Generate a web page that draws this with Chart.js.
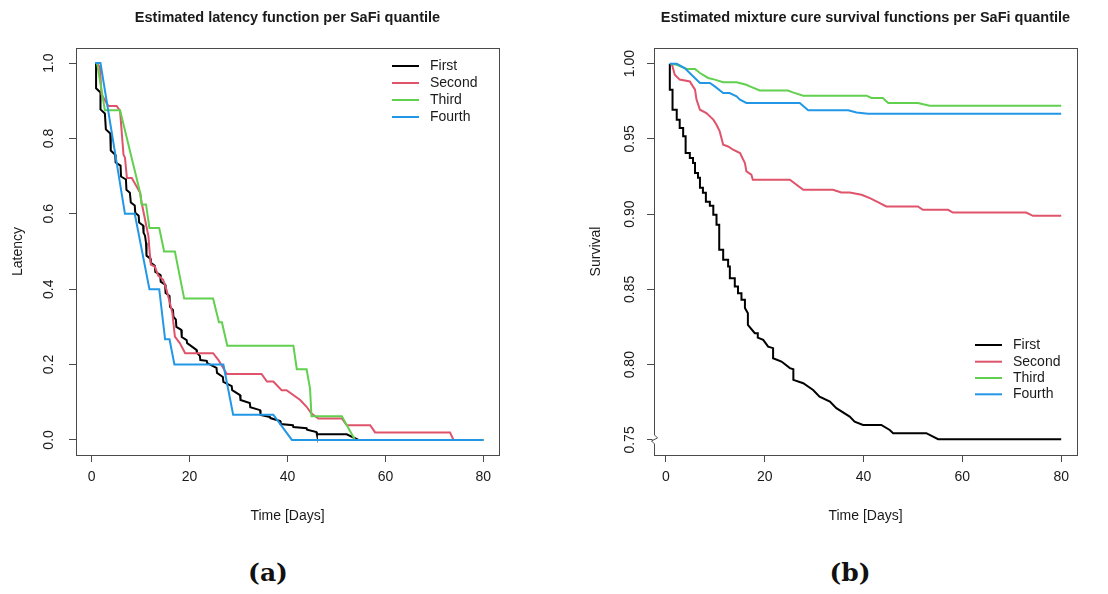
<!DOCTYPE html>
<html>
<head>
<meta charset="utf-8">
<title>SaFi quantile curves</title>
<script src="https://cdn.jsdelivr.net/npm/chart.js@4.4.1/dist/chart.umd.min.js"></script>
<style>
  body { margin: 0; background: #fff; }
  #wrap { position: relative; width: 1108px; height: 594px; overflow: hidden; }
  canvas { position: absolute; top: 0; }
  #latencyChart { left: 0; }
  #survivalChart { left: 554px; }
  .cap { position: absolute; top: 557px; width: 100px; text-align: center;
         font: bold 25px "DejaVu Serif", serif; line-height: 32px; color: #111; }
</style>
</head>
<body>
<div id="wrap">
  <canvas id="latencyChart" width="554" height="540"></canvas>
  <canvas id="survivalChart" width="554" height="540"></canvas>
  <div class="cap" style="left:218px">(a)</div>
  <div class="cap" style="left:800px">(b)</div>
</div>
<script>
// groups and palette (R 4.x default palette)
const quantiles = ['First', 'Second', 'Third', 'Fourth'];
const quantileColors = ['#000000', '#DF536B', '#61D04F', '#2297E6'];

// axis ticks
const xTicks = [0, 20, 40, 60, 80];
const latencyTicks = [0, 0.2, 0.4, 0.6, 0.8, 1.0];
const survivalTicks = [0.75, 0.80, 0.85, 0.90, 0.95, 1.00];

// (a) estimated latency function
const latFirstDays = [0.9,0.9,1.8,1.8,2.7,2.9,3.8,3.9,4.8,4.9,5.9,6.0,7.0,7.1,7.8,8.0,8.8,8.9,9.6,9.7,10.5,10.6,10.9,11.1,11.2,12.0,12.1,12.9,13.0,14.0,14.1,15.0,15.1,15.9,16.0,16.6,16.7,17.2,17.3,18.3,18.4,19.4,19.5,21.4,21.5,22.1,22.2,23.5,23.6,25.5,25.6,26.8,26.9,28.6,28.7,30.3,30.4,32.3,32.4,34.4,34.5,36.4,36.5,38.5,38.6,41.1,41.2,43.9,44.0,45.9,46.0,52.1,54.5,80];
const latFirstVals = [1.0,0.933,0.922,0.877,0.866,0.824,0.813,0.768,0.757,0.736,0.728,0.699,0.691,0.664,0.656,0.630,0.622,0.603,0.595,0.577,0.569,0.550,0.542,0.523,0.489,0.481,0.470,0.462,0.446,0.438,0.420,0.412,0.390,0.382,0.353,0.345,0.327,0.319,0.300,0.292,0.273,0.265,0.257,0.239,0.231,0.223,0.212,0.210,0.204,0.191,0.178,0.167,0.154,0.143,0.132,0.119,0.106,0.098,0.087,0.079,0.066,0.061,0.058,0.050,0.042,0.039,0.034,0.031,0.027,0.021,0.015,0.015,0,0];

const latSecondDays = [1.0,1.7,2.0,3.4,5.1,5.8,6.5,6.8,7.2,8.2,9.9,10.2,10.9,11.6,11.8,12.1,12.9,13.6,14.6,15.3,16.0,16.5,16.7,17.0,18.0,19.1,24.8,25.9,27.6,34.7,35.8,37.1,38.8,39.8,42.6,43.9,44.9,46.3,51.1,52.1,56.9,57.9,73.2,73.9,80];
const latSecondVals = [1.0,0.989,0.917,0.886,0.886,0.873,0.757,0.749,0.695,0.695,0.656,0.630,0.585,0.540,0.505,0.465,0.460,0.436,0.425,0.398,0.363,0.336,0.310,0.274,0.257,0.230,0.230,0.212,0.175,0.175,0.155,0.155,0.132,0.132,0.106,0.088,0.070,0.057,0.057,0.039,0.039,0.020,0.020,0,0];

const latThirdDays = [1.1,2.7,5.8,9.9,10.2,11.1,11.8,13.8,14.8,17.0,18.9,24.8,26.0,26.6,27.7,41.2,41.9,43.9,44.6,44.9,51.1,53.8,80];
const latThirdVals = [1.0,0.875,0.875,0.656,0.625,0.625,0.5625,0.5625,0.5,0.5,0.375,0.375,0.3125,0.3125,0.25,0.25,0.1875,0.1875,0.137,0.0625,0.0625,0,0];

const latFourthDays = [0.7,1.8,6.8,8.8,11.8,13.8,15.0,15.9,16.9,26.9,28.9,37.1,40.9,80];
const latFourthVals = [1.0,1.0,0.6,0.6,0.4,0.4,0.267,0.267,0.2,0.2,0.067,0.067,0,0];

// (b) estimated mixture cure survival
const survFirstDays = [0.8,0.8,1.35,1.35,2.2,2.2,2.8,2.8,3.5,3.5,4.0,4.0,4.85,4.85,5.5,5.5,5.9,5.9,6.5,6.5,6.9,6.9,7.5,7.5,8.1,8.1,8.9,8.9,9.6,9.6,10.25,10.25,10.8,10.8,11.6,11.6,12.6,12.6,12.95,12.95,13.95,13.95,14.6,14.6,15.3,15.3,16.0,16.0,16.6,16.6,18.0,18.6,18.6,19.7,20.7,21.7,21.7,23.4,25.1,25.8,25.8,27.8,29.8,31.1,33.2,34.5,37.2,38.2,39.9,43.6,45.3,46.0,52.7,55.1,80];
const survFirstVals = [1.0,0.9827,0.9827,0.9694,0.9694,0.9628,0.9628,0.9572,0.9572,0.9517,0.9517,0.9406,0.9406,0.9373,0.9373,0.934,0.934,0.9273,0.9273,0.9242,0.9242,0.9176,0.9176,0.9142,0.9142,0.9082,0.9082,0.9056,0.9056,0.8996,0.8996,0.893,0.893,0.8763,0.8763,0.8697,0.8697,0.8652,0.8652,0.8575,0.8575,0.8519,0.8519,0.8475,0.8475,0.8431,0.8431,0.8376,0.8342,0.8265,0.8209,0.8209,0.818,0.8165,0.812,0.811,0.8043,0.8021,0.7977,0.797,0.7899,0.7877,0.7832,0.7788,0.7755,0.7711,0.7655,0.7622,0.76,0.76,0.7566,0.7545,0.7545,0.7505,0.7505];

const survSecondDays = [1.2,1.8,2.8,4.85,5.9,6.2,6.9,8.2,9.6,10.25,10.9,11.6,12.6,13.6,15.0,16.0,16.3,17.3,17.6,25.1,27.8,33.8,35.5,37.2,39.6,41.3,43.3,44.6,51.0,52.0,57.1,58.1,72.9,74.3,80];
const survSecondVals = [1.0,0.9927,0.9894,0.9882,0.9827,0.9761,0.9694,0.9672,0.9628,0.9594,0.955,0.9461,0.945,0.9428,0.9406,0.934,0.9284,0.9262,0.9229,0.9229,0.9162,0.9162,0.9144,0.9144,0.9129,0.9107,0.9074,0.9051,0.9051,0.9029,0.9029,0.9011,0.9011,0.8989,0.8989];

const survThirdDays = [1.0,2.2,4.2,5.9,6.9,8.55,9.9,11.6,14.3,16.3,17.0,19.0,24.7,25.7,27.8,40.6,41.6,43.9,45.0,51.0,53.4,80];
const survThirdVals = [1.0,0.9993,0.9965,0.9965,0.9938,0.9905,0.9894,0.9876,0.9876,0.986,0.9849,0.9822,0.9822,0.9809,0.9787,0.9787,0.9772,0.9772,0.9739,0.9739,0.9721,0.9721];

const survFourthDays = [0.8,2.2,3.8,5.5,6.9,8.9,9.9,11.6,12.9,14.3,15.0,16.3,27.1,28.8,36.9,38.6,40.9,80];
const survFourthVals = [1.0,1.0,0.9971,0.9916,0.9872,0.9872,0.9849,0.9805,0.9805,0.9783,0.9761,0.9739,0.9739,0.969,0.969,0.9676,0.9668,0.9668];

const FONT = '"Liberation Sans", Arial, Helvetica, sans-serif';
const INK = '#1a1a1a';
const AXIS = '#4a4a4a';

function toPoints(days, vals) {
    const n = Math.min(days.length, vals.length);
    const pts = [];
    for (let i = 0; i < n; i++) pts.push({ x: days[i], y: vals[i] });
    return pts;
}

// base-graphics look: box, rotated y labels, titles, legend without frame
function makeFrame(cfg) {
    return {
        id: 'rFrame',
        afterDraw(chart) {
            const { ctx, chartArea: a } = chart;
            const x = chart.scales.x, y = chart.scales.y;
            ctx.save();
            ctx.strokeStyle = AXIS;
            ctx.lineWidth = 1;
            ctx.strokeRect(Math.round(a.left) + 0.5, Math.round(a.top) + 0.5,
                Math.round(a.right - a.left), Math.round(a.bottom - a.top));

            ctx.fillStyle = INK;
            ctx.font = '14px ' + FONT;
            ctx.textAlign = 'center';
            ctx.textBaseline = 'middle';
            xTicks.forEach(v => ctx.fillText(String(v), x.getPixelForValue(v), cfg.xLabelY));
            cfg.yTicks.forEach(v => {
                ctx.save();
                ctx.translate(cfg.yLabelX, y.getPixelForValue(v));
                ctx.rotate(-Math.PI / 2);
                ctx.fillText(v.toFixed(cfg.digits), 0, 0);
                ctx.restore();
            });

            // axis titles
            const midX = (a.left + a.right) / 2, midY = (a.top + a.bottom) / 2;
            ctx.fillText('Time [Days]', midX, cfg.xTitleY);
            ctx.save();
            ctx.translate(cfg.yTitleX, midY);
            ctx.rotate(-Math.PI / 2);
            ctx.fillText(cfg.yTitle, 0, 0);
            ctx.restore();

            ctx.font = 'bold 14.5px ' + FONT;
            ctx.fillText(cfg.title, midX, 18);

            // legend
            ctx.font = '14px ' + FONT;
            ctx.textAlign = 'left';
            chart.data.datasets.forEach((ds, i) => {
                const ly = cfg.legendRows[i];
                ctx.strokeStyle = ds.borderColor;
                ctx.lineWidth = 2;
                ctx.beginPath();
                ctx.moveTo(cfg.legendX[0], ly);
                ctx.lineTo(cfg.legendX[1], ly);
                ctx.stroke();
                ctx.fillText(ds.label, cfg.legendX[2], ly);
            });

            // broken y axis marker at the bottom of the survival axis
            if (cfg.axisBreak) {
                const bx = Math.round(a.left) + 0.5, by = y.getPixelForValue(cfg.yTicks[0]);
                ctx.fillStyle = '#fff';
                ctx.fillRect(bx - 2, by - 5, 4, 9);
                ctx.strokeStyle = AXIS;
                ctx.lineWidth = 1;
                ctx.beginPath();
                ctx.moveTo(bx, by - 5);
                ctx.lineTo(bx + 3, by - 2);
                ctx.lineTo(bx - 3, by + 1);
                ctx.lineTo(bx, by + 4);
                ctx.stroke();
            }
            ctx.restore();
        }
    };
}

function rPlot(canvasId, series, cfg) {
    const datasets = quantiles.map((name, i) => ({
        label: name,
        data: toPoints(series[i][0], series[i][1]),
        borderColor: quantileColors[i],
        backgroundColor: quantileColors[i],
        borderWidth: 2,
        pointRadius: 0,
        tension: 0,
        fill: false,
        order: quantiles.length - i
    }));
    const tickGrid = { drawOnChartArea: false, drawTicks: true, tickLength: 7, color: AXIS, lineWidth: 1 };
    return new Chart(document.getElementById(canvasId), {
        type: 'line',
        data: { datasets },
        options: {
            responsive: false,
            animation: false,
            layout: { padding: { left: 0, top: cfg.top, right: cfg.padRight, bottom: 0 } },
            plugins: { legend: { display: false }, title: { display: false }, tooltip: { enabled: false } },
            scales: {
                x: {
                    type: 'linear', min: cfg.xMin, max: cfg.xMax,
                    afterBuildTicks: s => { s.ticks = xTicks.map(v => ({ value: v })); },
                    afterFit: s => { s.height = cfg.xAxisHeight; },
                    grid: tickGrid,
                    border: { display: true, color: AXIS },
                    ticks: { display: false }
                },
                y: {
                    type: 'linear', min: cfg.yMin, max: cfg.yMax,
                    afterBuildTicks: s => { s.ticks = cfg.yTicks.map(v => ({ value: v })); },
                    afterFit: s => { s.width = cfg.yAxisWidth; },
                    grid: tickGrid,
                    border: { display: true, color: AXIS },
                    ticks: { display: false }
                }
            }
        },
        plugins: [makeFrame(cfg)]
    });
}

rPlot('latencyChart', [
    [latFirstDays, latFirstVals],
    [latSecondDays, latSecondVals],
    [latThirdDays, latThirdVals],
    [latFourthDays, latFourthVals]
], {
    title: 'Estimated latency function per SaFi quantile',
    yTitle: 'Latency',
    yTicks: latencyTicks, digits: 1,
    xMin: -3.2, xMax: 83.2, yMin: -0.04, yMax: 1.04,
    top: 48, padRight: 55, yAxisWidth: 76, xAxisHeight: 85,
    xLabelY: 477, xTitleY: 516, yLabelX: 49, yTitleX: 18,
    legendX: [392, 419, 430], legendRows: [66, 83, 100, 117],
    axisBreak: false
});

rPlot('survivalChart', [
    [survFirstDays, survFirstVals],
    [survSecondDays, survSecondVals],
    [survThirdDays, survThirdVals],
    [survFourthDays, survFourthVals]
], {
    title: 'Estimated mixture cure survival functions per SaFi quantile',
    yTitle: 'Survival',
    yTicks: survivalTicks, digits: 2,
    xMin: -2.4, xMax: 83.2, yMin: 0.74, yMax: 1.0104,
    top: 48, padRight: 31, yAxisWidth: 100, xAxisHeight: 85,
    xLabelY: 477, xTitleY: 516, yLabelX: 76, yTitleX: 42,
    legendX: [421, 448, 459], legendRows: [345, 361.7, 378, 394.3],
    axisBreak: true
});
</script>
</body>
</html>
